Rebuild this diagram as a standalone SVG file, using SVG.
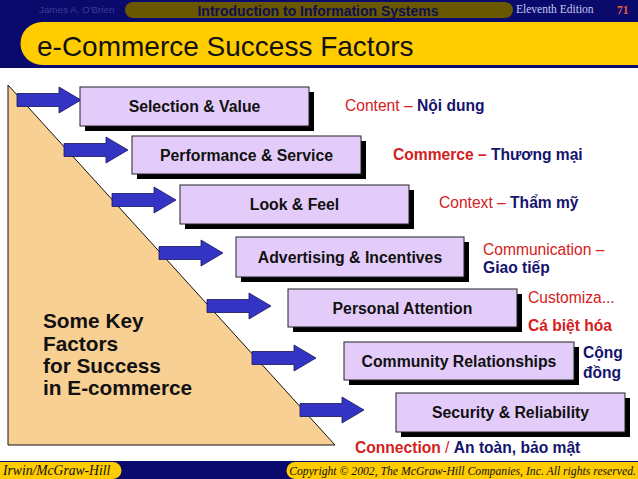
<svg xmlns="http://www.w3.org/2000/svg" width="638" height="479" viewBox="0 0 638 479">
<style>
  .sans { font-family: "Liberation Sans", Arial, sans-serif; }
  .serif { font-family: "Liberation Serif", "Times New Roman", serif; }
  .box { fill: #E4CCFA; stroke: #222; stroke-width: 1; }
  .shadow { fill: #000; }
  .lbl { font-family: "Liberation Sans", Arial, sans-serif; font-weight: bold; font-size: 15.8px; fill: #111; text-anchor: middle; }
  .arrow { fill: #3434C4; stroke: #15155a; stroke-width: 0.8; }
  .side { font-family: "Liberation Sans", Arial, sans-serif; font-size: 15.6px; }
  .red { fill: #D42020; }
  .navy { fill: #14146E; }
  .b { font-weight: bold; }
</style>
<defs>
  <path id="arr" d="M0,-6.5 H42 V-13 L64,0 L42,13 V6.5 H0 Z"/>
</defs>
<rect x="0" y="0" width="638" height="479" fill="#FFFFFF"/>
<!-- header -->
<g id="header">
  <rect x="0" y="0" width="638" height="68" fill="#0A0A6C"/>
  <path d="M42,22 H638 V65 H42 A21.5,21.5 0 0 1 42,22 Z" fill="#FFCC00"/>
  <rect x="125" y="2" width="388" height="16" rx="8" fill="#6A5800"/>
  <text x="39" y="13" class="sans" font-size="9.8" fill="#3C3C96">James A. O'Brien</text>
  <text x="318" y="15.5" class="sans" font-size="14" font-weight="bold" fill="#0E0E50" text-anchor="middle">Introduction to Information Systems</text>
  <text x="516" y="13" class="serif" font-size="11.5" fill="#C8C8EE">Eleventh Edition</text>
  <text x="617" y="14" class="serif" font-size="11.5" font-weight="bold" fill="#E8603A">71</text>
  <text x="37" y="56" class="sans" font-size="28" fill="#111">e-Commerce Success Factors</text>
</g>
<!-- footer -->
<g id="footer">
  <rect x="0" y="461" width="638" height="18" fill="#0A0A6C"/>
  <path d="M0,462 H113 A8.5,8.5 0 0 1 113,479 H0 Z" fill="#FFCC00"/>
  <path d="M295,462 H638 V479 H295 A8.5,8.5 0 0 1 295,462 Z" fill="#FFCC00"/>
  <text x="3" y="475" class="serif" font-size="13.6" font-style="italic" fill="#111">Irwin/McGraw-Hill</text>
  <text x="636" y="475" class="serif" font-size="11.7" font-style="italic" fill="#111" text-anchor="end">Copyright © 2002, The McGraw-Hill Companies, Inc. All rights reserved.</text>
</g>
<!-- key factors shape -->
<g id="keyfactors">
  <polygon points="8,85 8,445 335,445" fill="#F9D094" stroke="#111" stroke-width="1"/>
  <text class="sans" font-size="20.8" font-weight="bold" fill="#111">
    <tspan x="43" y="328">Some Key</tspan>
    <tspan x="43" y="350.5">Factors</tspan>
    <tspan x="43" y="373">for Success</tspan>
    <tspan x="43" y="394.5">in E-commerce</tspan>
  </text>
</g>
<!-- connectors -->
<g id="connectors">
  <use href="#arr" class="arrow" transform="translate(17,100)"/>
  <use href="#arr" class="arrow" transform="translate(64,150)"/>
  <use href="#arr" class="arrow" transform="translate(112,200)"/>
  <use href="#arr" class="arrow" transform="translate(159,253)"/>
  <use href="#arr" class="arrow" transform="translate(207,306)"/>
  <use href="#arr" class="arrow" transform="translate(252,358)"/>
  <use href="#arr" class="arrow" transform="translate(300,410)"/>
</g>
<!-- nodes -->
<g id="n1">
  <rect x="85" y="92" width="229" height="39" class="shadow"/>
  <rect x="80" y="87" width="229" height="39" class="box"/>
  <text x="194.5" y="112" class="lbl">Selection &amp; Value</text>
</g>
<g id="n2">
  <rect x="137" y="141" width="229" height="38" class="shadow"/>
  <rect x="132" y="136" width="229" height="38" class="box"/>
  <text x="246.5" y="160.5" class="lbl">Performance &amp; Service</text>
</g>
<g id="n3">
  <rect x="185" y="190" width="229" height="39" class="shadow"/>
  <rect x="180" y="185" width="229" height="39" class="box"/>
  <text x="294.5" y="210" class="lbl">Look &amp; Feel</text>
</g>
<g id="n4">
  <rect x="241" y="242" width="228" height="40" class="shadow"/>
  <rect x="236" y="237" width="228" height="40" class="box"/>
  <text x="350" y="262.5" class="lbl">Advertising &amp; Incentives</text>
</g>
<g id="n5">
  <rect x="293" y="294" width="229" height="38" class="shadow"/>
  <rect x="288" y="289" width="229" height="38" class="box"/>
  <text x="402.5" y="313.5" class="lbl">Personal Attention</text>
</g>
<g id="n6">
  <rect x="349" y="347" width="230" height="38" class="shadow"/>
  <rect x="344" y="342" width="230" height="38" class="box"/>
  <text x="459" y="366.5" class="lbl">Community Relationships</text>
</g>
<g id="n7">
  <rect x="401" y="398" width="229" height="39" class="shadow"/>
  <rect x="396" y="393" width="229" height="39" class="box"/>
  <text x="510.5" y="418" class="lbl">Security &amp; Reliability</text>
</g>
<!-- side labels -->
<g id="labels" class="side">
  <text x="345" y="111"><tspan class="red">Content – </tspan><tspan class="navy b">Nội dung</tspan></text>
  <text x="393" y="160"><tspan class="red b">Commerce – </tspan><tspan class="navy b">Thương mại</tspan></text>
  <text x="439" y="208"><tspan class="red">Context – </tspan><tspan class="navy b">Thẩm mỹ</tspan></text>
  <text x="483" y="255" class="red">Communication –</text>
  <text x="483" y="273" class="navy b">Giao tiếp</text>
  <text x="528" y="303" class="red">Customiza...</text>
  <text x="528" y="331" class="red b">Cá biệt hóa</text>
  <text x="583" y="358" class="navy b">Cộng</text>
  <text x="583" y="378" class="navy b">đồng</text>
  <text x="355" y="453"><tspan class="red b">Connection</tspan><tspan class="red"> / </tspan><tspan class="navy b">An toàn, bảo mật</tspan></text>
</g>
</svg>
